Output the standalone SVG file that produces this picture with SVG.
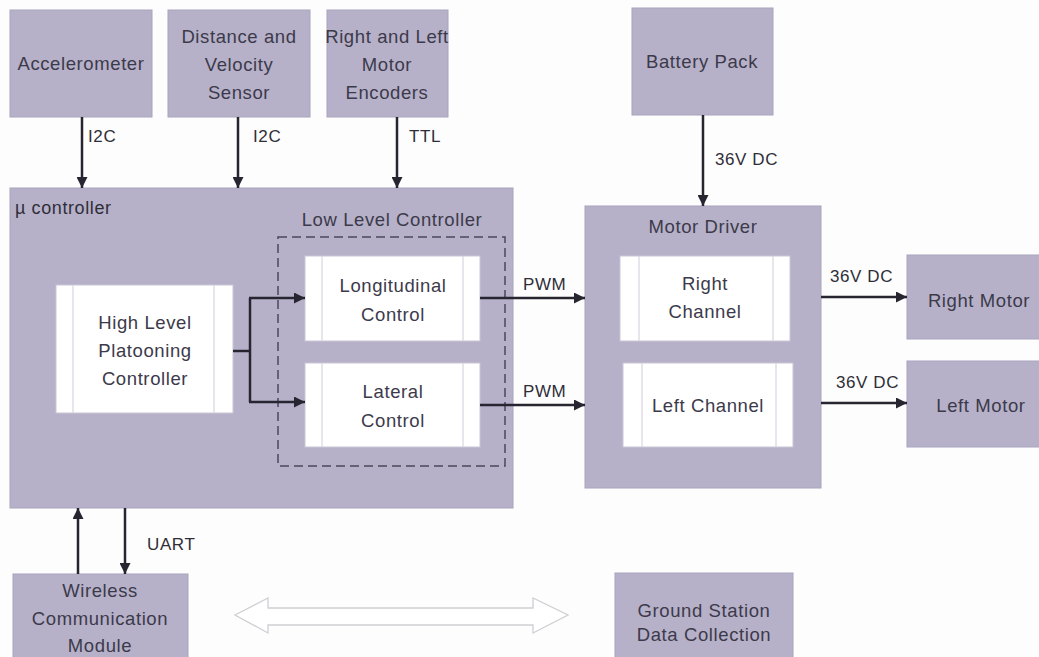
<svg xmlns="http://www.w3.org/2000/svg" width="1039" height="657" viewBox="0 0 1039 657">
<defs>
<style>
.box{fill:#b6b1c9;stroke:#a9a4bd;stroke-width:1}
.wbox{fill:#ffffff;stroke:#c9c6d6;stroke-width:1}
.inner{stroke:#d8d6e0;stroke-width:1.2}
.t{font-family:"Liberation Sans",Arial,sans-serif;font-size:18.5px;fill:#3c3a4a;text-anchor:middle;letter-spacing:0.6px}
.tl{font-family:"Liberation Sans",Arial,sans-serif;font-size:17px;fill:#2f2e38;letter-spacing:0.6px}
.c{stroke:#262530;stroke-width:2.5;fill:none}
</style>
<marker id="ah" viewBox="0 0 10 10" refX="10" refY="5" markerWidth="4.4" markerHeight="4.4" orient="auto" markerUnits="strokeWidth">
<path d="M0,0 L10,5 L0,10 z" fill="#262530"/>
</marker>
</defs>
<rect width="1039" height="657" fill="#fdfdfd"/>

<g id="accelerometer"><rect class="box" x="10" y="10" width="142" height="107"/><text class="t" x="81" y="70">Accelerometer</text></g>
<g id="distance-sensor"><rect class="box" x="168" y="10" width="142" height="107"/><text class="t" x="239" y="43">Distance and</text><text class="t" x="239" y="71">Velocity</text><text class="t" x="239" y="99">Sensor</text></g>
<g id="encoders"><rect class="box" x="327" y="10" width="121" height="107"/><text class="t" x="387" y="43">Right and Left</text><text class="t" x="387" y="71">Motor</text><text class="t" x="387" y="99">Encoders</text></g>
<g id="battery"><rect class="box" x="632" y="8" width="141" height="107"/><text class="t" x="702" y="68">Battery Pack</text></g>

<g id="ucontroller"><rect class="box" x="10" y="188" width="503" height="320"/><text class="tl" x="15" y="214" style="font-size:18px">µ controller</text>
<text class="t" x="392" y="226">Low Level Controller</text>
<rect x="278" y="237" width="227" height="229" fill="none" stroke="#4a4858" stroke-width="1.5" stroke-dasharray="9,5"/>
</g>
<g id="high-level"><rect class="wbox" x="56" y="285" width="177" height="128"/><line class="inner" x1="73" y1="285" x2="73" y2="413"/><line class="inner" x1="214" y1="285" x2="214" y2="413"/><text class="t" x="145" y="329">High Level</text><text class="t" x="145" y="357">Platooning</text><text class="t" x="145" y="385">Controller</text></g>
<g id="longitudinal"><rect class="wbox" x="305" y="256" width="175" height="85"/><line class="inner" x1="322" y1="256" x2="322" y2="341"/><line class="inner" x1="463" y1="256" x2="463" y2="341"/><text class="t" x="393" y="292">Longitudinal</text><text class="t" x="393" y="321">Control</text></g>
<g id="lateral"><rect class="wbox" x="305" y="363" width="175" height="84"/><line class="inner" x1="322" y1="363" x2="322" y2="447"/><line class="inner" x1="463" y1="363" x2="463" y2="447"/><text class="t" x="393" y="398">Lateral</text><text class="t" x="393" y="427">Control</text></g>

<g id="motor-driver"><rect class="box" x="585" y="206" width="236" height="282"/><text class="t" x="703" y="233">Motor Driver</text></g>
<g id="right-channel"><rect class="wbox" x="620" y="256" width="170" height="85"/><line class="inner" x1="639" y1="256" x2="639" y2="341"/><line class="inner" x1="773" y1="256" x2="773" y2="341"/><text class="t" x="705" y="290">Right</text><text class="t" x="705" y="318">Channel</text></g>
<g id="left-channel"><rect class="wbox" x="623" y="363" width="170" height="84"/><line class="inner" x1="642" y1="363" x2="642" y2="447"/><line class="inner" x1="776" y1="363" x2="776" y2="447"/><text class="t" x="708" y="412">Left Channel</text></g>

<g id="right-motor"><rect class="box" x="907" y="255" width="135" height="84"/><text class="t" x="979" y="307">Right Motor</text></g>
<g id="left-motor"><rect class="box" x="907" y="361" width="135" height="86"/><text class="t" x="981" y="412">Left Motor</text></g>

<g id="wireless"><rect class="box" x="13" y="574" width="175" height="90"/><text class="t" x="100" y="597">Wireless</text><text class="t" x="100" y="625">Communication</text><text class="t" x="100" y="652">Module</text></g>
<g id="ground-station"><rect class="box" x="615" y="573" width="178" height="90"/><text class="t" x="704" y="617">Ground Station</text><text class="t" x="704" y="641">Data Collection</text></g>

<g id="connectors">
<line class="c" x1="82" y1="117" x2="82" y2="188" marker-end="url(#ah)"/>
<line class="c" x1="238" y1="117" x2="238" y2="188" marker-end="url(#ah)"/>
<line class="c" x1="397" y1="117" x2="397" y2="188" marker-end="url(#ah)"/>
<line class="c" x1="703" y1="115" x2="703" y2="206" marker-end="url(#ah)"/>
<path class="c" d="M233,351 H250" stroke-width="4"/>
<path class="c" d="M250,298 V402"/>
<line class="c" x1="249" y1="298" x2="305" y2="298" marker-end="url(#ah)"/>
<line class="c" x1="249" y1="402" x2="305" y2="402" marker-end="url(#ah)"/>
<line class="c" x1="480" y1="298" x2="585" y2="298" marker-end="url(#ah)"/>
<line class="c" x1="480" y1="405" x2="585" y2="405" marker-end="url(#ah)"/>
<line class="c" x1="821" y1="297" x2="907" y2="297" marker-end="url(#ah)"/>
<line class="c" x1="821" y1="403" x2="907" y2="403" marker-end="url(#ah)"/>
<line class="c" x1="78" y1="574" x2="78" y2="508" marker-end="url(#ah)"/>
<line class="c" x1="125" y1="508" x2="125" y2="574" marker-end="url(#ah)"/>
<polygon points="235,615 268,598 268,608 533,608 533,598 568,615 533,633 533,625 268,625 268,633" fill="#ffffff" stroke="#cfcfd4" stroke-width="1.3"/>
<text class="tl" x="88" y="142">I2C</text>
<text class="tl" x="253" y="142">I2C</text>
<text class="tl" x="409" y="142">TTL</text>
<text class="tl" x="715" y="165">36V DC</text>
<text class="tl" x="523" y="290">PWM</text>
<text class="tl" x="523" y="397">PWM</text>
<text class="tl" x="830" y="282">36V DC</text>
<text class="tl" x="836" y="388">36V DC</text>
<text class="tl" x="147" y="550">UART</text>
</g>
</svg>
